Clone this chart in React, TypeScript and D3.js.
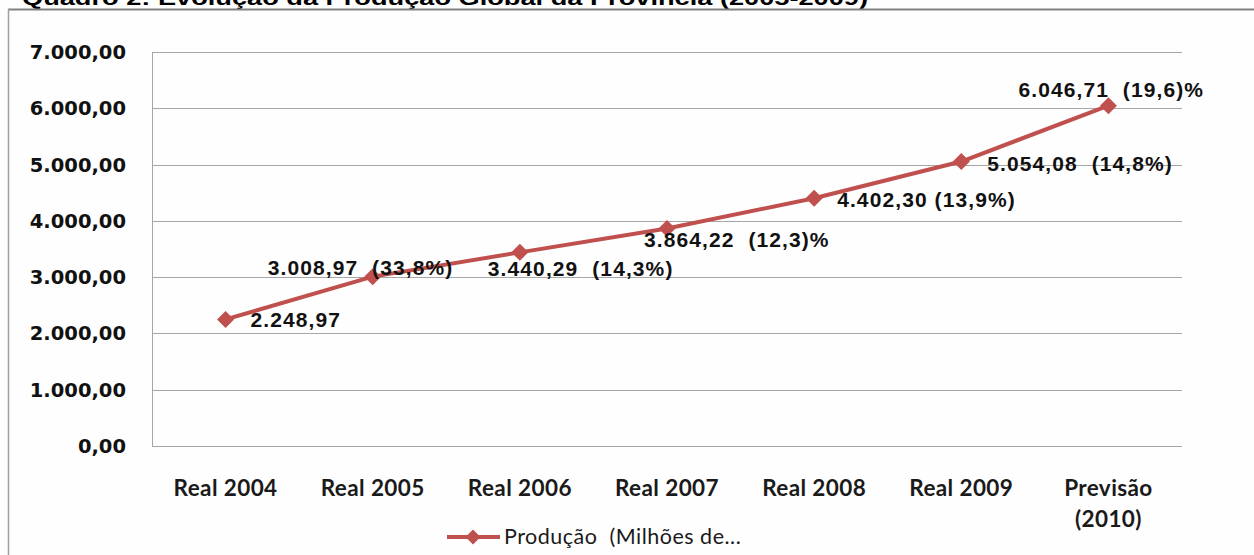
import React from "react";
import * as d3 from "d3";

const categories: string[][] = [
  ["Real 2004"],
  ["Real 2005"],
  ["Real 2006"],
  ["Real 2007"],
  ["Real 2008"],
  ["Real 2009"],
  ["Previsão", "(2010)"],
];
const values: number[] = [2248.97, 3008.97, 3440.29, 3864.22, 4402.3, 5054.08, 6046.71];
const pointLabels: string[] = [
  "2.248,97",
  "3.008,97  (33,8%)",
  "3.440,29  (14,3%)",
  "3.864,22  (12,3)%",
  "4.402,30 (13,9%)",
  "5.054,08  (14,8%)",
  "6.046,71  (19,6)%",
];
const yTicks: number[] = [0, 1000, 2000, 3000, 4000, 5000, 6000, 7000];
const yTickLabels: string[] = ["0,00", "1.000,00", "2.000,00", "3.000,00", "4.000,00", "5.000,00", "6.000,00", "7.000,00"];
const title = "Quadro 2: Evolução da Produção Global da Província (2005-2009)";
const legendLabel = "Produção  (Milhões de...";

// label offsets relative to the point (dx: start of text, dy: baseline)
const labelOffsets: [number, number][] = [
  [25, 8],
  [-105, -2],
  [-32, 24],
  [-23, 19],
  [23, 9],
  [26, 9],
  [-90, -9],
];

const W = 1254;
const H = 555;
const left = 152;
const right = 1182;
const top = 52;
const bottom = 446;
const color = "#C0504D";

export default function App() {
  const x = d3.scaleBand<number>().domain(d3.range(categories.length)).range([left, right]);
  const y = d3.scaleLinear().domain([0, 7000]).range([bottom, top]);
  const cx = (i: number) => (x(i) as number) + x.bandwidth() / 2;
  const line = d3
    .line<number>()
    .x((_, i) => cx(i))
    .y((d) => y(d));
  const diamond = (px: number, py: number, r: number) =>
    `M${px},${py - r}L${px + r},${py}L${px},${py + r}L${px - r},${py}Z`;

  return (
    <svg
      width={W}
      height={H}
      style={{ position: "absolute", left: 0, top: 0, background: "#fefefe" }}
    >
      <rect x={0} y={0} width={W} height={H} fill="#fefefe" />
      <text
        x={22}
        y={5}
        fontFamily="Liberation Sans, Arial, sans-serif"
        fontWeight="bold"
        fontSize={20}
        textLength={846}
        lengthAdjust="spacingAndGlyphs"
        fill="#000"
      >
        {title}
      </text>
      <line x1={8} y1={9.5} x2={W} y2={9.5} stroke="#808080" strokeWidth={2} />
      <line x1={8.5} y1={9} x2={8.5} y2={H} stroke="#a0a0a0" strokeWidth={1.5} />

      {/* gridlines */}
      {yTicks.map((t) => (
        <line key={t} x1={left} x2={right} y1={Math.round(y(t)) + 0.5} y2={Math.round(y(t)) + 0.5} stroke="#a6a6a6" strokeWidth={1} />
      ))}
      <line x1={left + 0.5} x2={left + 0.5} y1={top} y2={bottom + 1} stroke="#a6a6a6" strokeWidth={1} />

      {/* y labels */}
      {yTicks.map((t, i) => (
        <text
          key={t}
          x={126}
          y={y(t) + 7}
          textAnchor="end"
          fontFamily="DejaVu Sans, Verdana, sans-serif"
          fontWeight="bold"
          fontSize={19.5}
          fill="#111"
        >
          {yTickLabels[i]}
        </text>
      ))}

      {/* x labels */}
      {categories.map((c, i) => (
        <text
          key={i}
          x={cx(i)}
          y={496}
          textAnchor="middle"
          fontFamily="Lato, Open Sans, sans-serif"
          fontWeight="bold"
          fontSize={22.5}
          letterSpacing={0.4}
          fill="#1a1a1a"
        >
          {c.map((s, j) => (
            <tspan key={j} x={cx(i)} dy={j === 0 ? 0 : 31}>
              {s}
            </tspan>
          ))}
        </text>
      ))}

      {/* series */}
      <path d={line(values) || ""} fill="none" stroke={color} strokeWidth={4} strokeLinejoin="round" />
      {values.map((v, i) => (
        <path key={i} d={diamond(cx(i), y(v), 8.5)} fill={color} />
      ))}

      {/* point labels */}
      {values.map((v, i) => (
        <text
          key={i}
          x={cx(i) + labelOffsets[i][0]}
          y={y(v) + labelOffsets[i][1]}
          fontFamily="Liberation Sans, Arial, sans-serif"
          fontWeight="bold"
          fontSize={21}
          letterSpacing={1.1}
          fill="#111"
          style={{ whiteSpace: "pre" }}
        >
          {pointLabels[i]}
        </text>
      ))}

      {/* legend */}
      <line x1={447} x2={500} y1={537} y2={537} stroke={color} strokeWidth={4} />
      <path d={diamond(473, 537, 7.5)} fill={color} />
      <text x={504} y={544} fontFamily="Lato, Open Sans, sans-serif" fontSize={21.5} letterSpacing={0.5} fill="#1a1a1a" style={{ whiteSpace: "pre" }}>
        {legendLabel}
      </text>
    </svg>
  );
}
